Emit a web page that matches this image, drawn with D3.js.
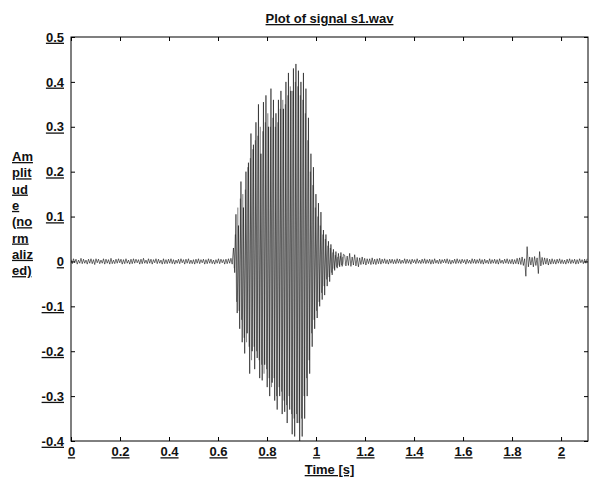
<!DOCTYPE html>
<html>
<head>
<meta charset="utf-8">
<script src="https://cdn.jsdelivr.net/npm/d3@7"></script>
<style>
  html, body { margin: 0; padding: 0; background: #fff; }
  svg text { font-family: "Liberation Sans", Arial, sans-serif; font-weight: bold; fill: #111; text-decoration: underline; }
</style>
</head>
<body>
<svg id="chart" width="592" height="481"></svg>
<script>
// Peak amplitude of s1.wav, one value every 5.1 ms, in thousandths (signed half-cycle peaks)
const peakStep = 0.0051;
const quietBefore = [
  4,-5,6,-3,5,-6,3,-4,7,-5,
  5,-4,3,-6,5,-4,6,-5,4,-7,
  6,-3,5,-5,3,-4,6,-6,5,-4,
  4,-6,7,-5,3,-5,5,-4,6,-3,
  5,-6,4,-5,6,-4,3,-6,5,-5,
  6,-4,5,-3,4,-6,5,-5,7,-4,
  3,-5,6,-4,5,-6,4,-3,6,-5,
  5,-4,3,-6,6,-5,4,-5,5,-4,
  6,-5,4,-6,3,-4,5,-5,6,-3,
  4,-6,5,-4,6,-5,3,-5,4,-6,
  5,-4,6,-5,4,-3,5,-6,4,-5,
  6,-4,5,-5,3,-6,4,-4,6,-5,
  5,-3,4,-6,5,-5,6,-4,7,-6
];
const burst = [
  30,-25,105,-115,80,-150,178,-180,120,-205,
  200,-160,220,-250,285,-200,260,-240,310,-215,
  350,-260,240,-265,355,-230,370,-280,300,-300,
  385,-270,360,-310,330,-330,360,-300,380,-340,
  340,-335,400,-360,420,-330,380,-385,430,-390,
  440,-360,425,-400,400,-390,420,-350,385,-300,
  320,-250,240,-190,210,-150,150,-126,130,-100,
  110,-85,70,-75,60,-55,45,-45,38,-30,
  27,-20,22,-15,18,-12,20,-11,16
];
// secondary peaks inside each voiced period, half a step after the main ones
const burstInner = [
  -15,60,-90,120,-110,140,-130,150,-170,160,
  -180,210,-190,230,-220,250,-190,270,-200,280,
  -220,300,-230,290,-250,310,-240,330,-260,300,
  -280,320,-260,300,-300,310,-280,340,-290,360,
  -310,350,-320,370,-300,390,-340,380,-350,400,
  -340,390,-360,370,-350,360,-300,330,-260,270,
  -220,200,-160,170,-130,120,-110,100,-90,80,
  -70,60,-55,50,-40,35,-35,30,-25,20,
  -16,14,-12,10,-9,12,-8,10,-7
];
const tail = [
  14,-10,12,-9,18,-11,10,-8,15,-10,
  9,-12,8,-7,10,-6,7,-8,6,-5
];
const quietAfter = [
  6,-7,8,-6,5,-7,6,-5,7,-6,
  5,-4,6,-5,4,-6,5,-4,5,-5,
  4,-5,6,-4,5,-5,3,-4,6,-5,
  5,-4,4,-6,5,-3,4,-5,6,-4,
  3,-5,5,-4,6,-5,4,-4,5,-6,
  4,-5,6,-4,3,-5,5,-5,4,-3,
  5,-4,6,-5,4,-6,3,-4,5,-5,
  6,-4,4,-5,5,-3,4,-6,5,-4,
  3,-5,6,-4,5,-5,4,-4,6,-5,
  4,-6,5,-4,3,-5,6,-5,4,-4,
  5,-5,4,-6,6,-4,3,-5,5,-4,
  6,-5,4,-5,5,-6,4,-5,7,-6,
  8,-7,10,-9,6,-33,33,-12,10,-8,
  9,-12,11,-9,8,-27,22,-10,9,-7,
  8,-6,7,-8,5,-6,6,-5,4,-6,
  5,-4,6,-5,4,-5,3,-6,5,-4,
  6,-5,4,-4,5,-6,4,-5,6,-3,
  4,-5,5,-4,6
];

const xTicks = [0, 0.2, 0.4, 0.6, 0.8, 1, 1.2, 1.4, 1.6, 1.8, 2];
const yTicks = [0.5, 0.4, 0.3, 0.2, 0.1, 0, -0.1, -0.2, -0.3, -0.4];
const yLabelLines = ["Am", "plit", "ud", "e", "(no", "rm", "aliz", "ed)"];

const samples = quietBefore.concat(burst, tail, quietAfter)
  .map((v, i) => ({ t: i * peakStep, a: v / 1000 }));
const innerSamples = burstInner
  .map((v, i) => ({ t: (quietBefore.length + i + 0.5) * peakStep, a: v / 1000 }));

const svg = d3.select("#chart");
const m = { left: 71, right: 4, top: 37, bottom: 40 };
const W = 592, H = 481;

const x = d3.scaleLinear().domain([0, 2.11]).range([m.left, W - m.right]);
const y = d3.scaleLinear().domain([-0.4, 0.5]).range([H - m.bottom, m.top]);

svg.append("clipPath").attr("id", "plotClip")
  .append("rect")
  .attr("x", x(0)).attr("y", y(0.5))
  .attr("width", x(2.11) - x(0)).attr("height", y(-0.4) - y(0.5));

// waveform: main trace plus the secondary peaks of the voiced part
const line = d3.line().x(d => x(d.t)).y(d => y(d.a));
const wave = svg.append("g").attr("clip-path", "url(#plotClip)");
wave.append("path")
  .datum(innerSamples)
  .attr("fill", "none").attr("stroke", "#000")
  .attr("stroke-opacity", 0.28).attr("stroke-width", 1)
  .attr("d", line);
wave.append("path")
  .datum(samples)
  .attr("fill", "none").attr("stroke", "#000")
  .attr("stroke-opacity", 0.55).attr("stroke-width", 1)
  .attr("d", line);

// axes with inward ticks
const fmt = d => String(+d.toFixed(1));
const gB = svg.append("g").attr("transform", `translate(0,${y(-0.4)})`)
  .call(d3.axisBottom(x).tickValues(xTicks).tickSize(-4).tickPadding(6).tickFormat(fmt));
const gT = svg.append("g").attr("transform", `translate(0,${y(0.5)})`)
  .call(d3.axisTop(x).tickValues(xTicks).tickSize(-4).tickFormat(""));
const gL = svg.append("g").attr("transform", `translate(${x(0)},0)`)
  .call(d3.axisLeft(y).tickValues(yTicks).tickSize(-4).tickPadding(7).tickFormat(fmt));
const gR = svg.append("g").attr("transform", `translate(${x(2.11)},0)`)
  .call(d3.axisRight(y).tickValues(yTicks).tickSize(-4).tickFormat(""));

[gB, gT, gL, gR].forEach(g => {
  g.select(".domain").remove();
  g.selectAll(".tick line").attr("stroke", "#000");
  g.selectAll("text").attr("font-size", 13).attr("fill", "#111");
});

// frame
svg.append("rect")
  .attr("x", x(0)).attr("y", y(0.5))
  .attr("width", x(2.11) - x(0)).attr("height", y(-0.4) - y(0.5))
  .attr("fill", "none").attr("stroke", "#000").attr("stroke-width", 1);

// title and axis labels
svg.append("text")
  .attr("x", (x(0) + x(2.11)) / 2).attr("y", 23)
  .attr("text-anchor", "middle").attr("font-size", 13)
  .text("Plot of signal s1.wav");

svg.append("text")
  .attr("x", (x(0) + x(2.11)) / 2).attr("y", 474)
  .attr("text-anchor", "middle").attr("font-size", 13)
  .text("Time [s]");

svg.append("g").selectAll("text")
  .data(yLabelLines).join("text")
  .attr("x", 12).attr("y", (d, i) => 161 + i * 16.3)
  .attr("font-size", 13)
  .text(d => d);
</script>
</body>
</html>
